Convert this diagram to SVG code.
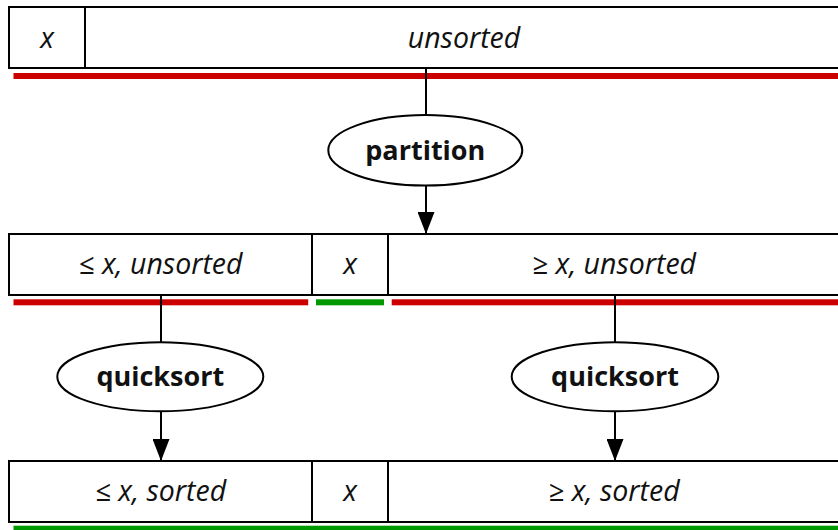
<svg xmlns="http://www.w3.org/2000/svg" width="838" height="530" viewBox="0 0 838 530">
<style>
.cell{fill:#fff;stroke:#000;stroke-width:2}
.lbl{font-family:"Open Sans","Noto Sans","DejaVu Sans",sans-serif;font-size:28.5px;font-style:italic;text-anchor:middle;fill:#111}
.op{font-family:"Open Sans","Noto Sans","DejaVu Sans",sans-serif;font-size:27px;font-weight:bold;text-anchor:middle;fill:#111}
.ell{fill:#fff;stroke:#000;stroke-width:2}
.red{fill:#cc0000}
.green{fill:#009900}
.conn{stroke:#000;stroke-width:2;fill:none}
</style>
<defs>
<marker id="arr" viewBox="0 0 22 17" refX="22" refY="8.5" markerWidth="22" markerHeight="17" markerUnits="userSpaceOnUse" orient="auto">
<path d="M0,0 L22,8.5 L0,17 Z" fill="#000"/>
</marker>
</defs>
<rect class="red" x="13.5" y="73" width="830" height="6"/>
<rect class="red" x="13.5" y="299.3" width="294.7" height="6"/>
<rect class="green" x="316" y="299.3" width="68" height="6"/>
<rect class="red" x="391.7" y="299.3" width="450" height="6"/>
<rect class="green" x="13.5" y="525.7" width="830" height="6"/>
<g id="row-input">
<rect class="cell" x="9" y="7" width="76" height="61"/>
<rect class="cell" x="85" y="7" width="758" height="61"/>
<text class="lbl" x="47" y="48">x</text>
<text class="lbl" x="464" y="48">unsorted</text>
</g>
<g id="row-partitioned">
<rect class="cell" x="9" y="234" width="303" height="61"/>
<rect class="cell" x="312" y="234" width="76" height="61"/>
<rect class="cell" x="388" y="234" width="453" height="61"/>
<text class="lbl" x="160.5" y="274">≤ x, unsorted</text>
<text class="lbl" x="350" y="274">x</text>
<text class="lbl" x="614" y="274">≥ x, unsorted</text>
</g>
<g id="row-sorted">
<rect class="cell" x="9" y="461" width="303" height="61"/>
<rect class="cell" x="312" y="461" width="76" height="61"/>
<rect class="cell" x="388" y="461" width="453" height="61"/>
<text class="lbl" x="160.5" y="500.5">≤ x, sorted</text>
<text class="lbl" x="350" y="500.5">x</text>
<text class="lbl" x="614" y="500.5">≥ x, sorted</text>
</g>
<g id="connectors">
<line class="conn" x1="426" y1="68" x2="426" y2="115"/>
<line class="conn" x1="426" y1="186" x2="426" y2="234" marker-end="url(#arr)"/>
<line class="conn" x1="161" y1="295" x2="161" y2="342"/>
<line class="conn" x1="161" y1="411" x2="161" y2="461" marker-end="url(#arr)"/>
<line class="conn" x1="615" y1="295" x2="615" y2="342"/>
<line class="conn" x1="615" y1="411" x2="615" y2="461" marker-end="url(#arr)"/>
</g>
<g id="partition">
<ellipse class="ell" cx="425.3" cy="150.3" rx="97" ry="35.3"/>
<text class="op" x="425.3" y="160">partition</text>
</g>
<g id="quicksort-left">
<ellipse class="ell" cx="160.3" cy="376.7" rx="103" ry="34.5"/>
<text class="op" x="160.3" y="386">quicksort</text>
</g>
<g id="quicksort-right">
<ellipse class="ell" cx="615" cy="376.7" rx="103.3" ry="34.5"/>
<text class="op" x="615" y="386">quicksort</text>
</g>
</svg>
